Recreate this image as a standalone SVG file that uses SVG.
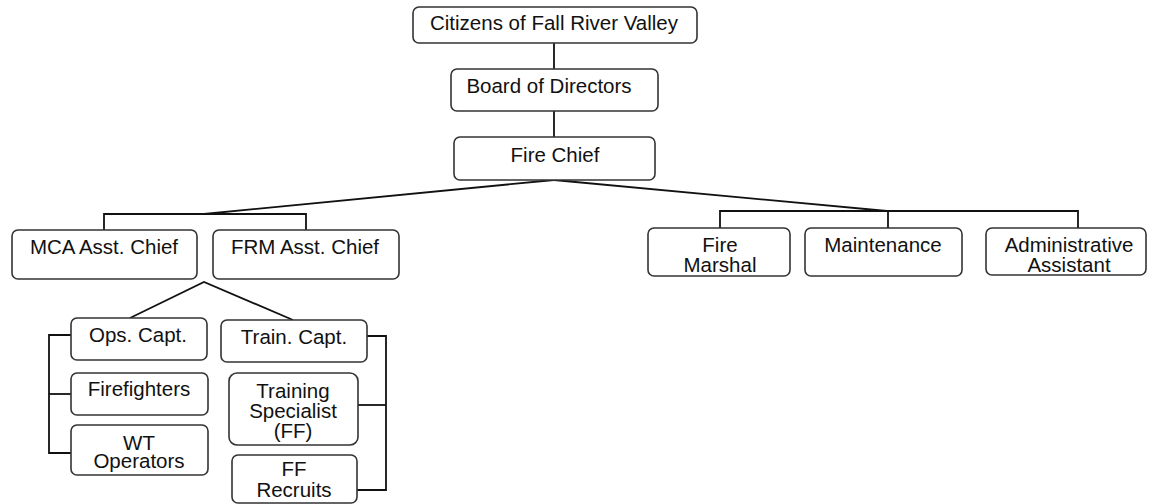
<svg xmlns="http://www.w3.org/2000/svg" width="1149" height="504" viewBox="0 0 1149 504">
<style>
.box{fill:#fff;stroke:#333;stroke-width:1.6}
.t{font-family:"Liberation Sans",Arial,sans-serif;font-size:20.5px;fill:#111;text-anchor:middle}
.c{fill:none;stroke:#111;stroke-width:1.8}
</style>
<rect width="1149" height="504" fill="#fff"/>
<g id="connectors">
<line class="c" x1="554" y1="43" x2="554" y2="69"/>
<line class="c" x1="554" y1="111" x2="554" y2="137"/>
<line class="c" x1="554" y1="180" x2="204" y2="214"/>
<line class="c" x1="554" y1="180" x2="887" y2="211"/>
<polyline class="c" points="104,230 104,214 306,214 306,230"/>
<polyline class="c" points="720,228 720,211 1078,211 1078,228"/>
<line class="c" x1="888" y1="211" x2="888" y2="228"/>
<polyline class="c" points="130,318 204,282 293,320"/>
<polyline class="c" points="71,335 49,335 49,453 71,453"/>
<line class="c" x1="49" y1="394" x2="71" y2="394"/>
<polyline class="c" points="367,336 386,336 386,490 357,490"/>
<line class="c" x1="358" y1="405" x2="386" y2="405"/>
</g>
<g id="citizens"><rect class="box" x="413" y="7" width="284" height="36" rx="6"/><text class="t" x="554" y="30">Citizens of Fall River Valley</text></g>
<g id="board"><rect class="box" x="451" y="69" width="207" height="42" rx="6"/><text class="t" x="549" y="93">Board of Directors</text></g>
<g id="firechief"><rect class="box" x="454" y="137" width="201" height="43" rx="6"/><text class="t" x="555" y="162">Fire Chief</text></g>
<g id="mca"><rect class="box" x="12" y="230" width="185" height="49" rx="6"/><text class="t" x="104" y="254">MCA Asst. Chief</text></g>
<g id="frm"><rect class="box" x="213" y="230" width="186" height="49" rx="6"/><text class="t" x="305" y="254">FRM Asst. Chief</text></g>
<g id="firemarshal"><rect class="box" x="648" y="228" width="142" height="48" rx="6"/><text class="t" x="720" y="252">Fire</text><text class="t" x="720" y="272">Marshal</text></g>
<g id="maintenance"><rect class="box" x="805" y="228" width="157" height="48" rx="6"/><text class="t" x="883" y="252">Maintenance</text></g>
<g id="admin"><rect class="box" x="986" y="228" width="160" height="47" rx="6"/><text class="t" x="1069" y="252">Administrative</text><text class="t" x="1069" y="272">Assistant</text></g>
<g id="opscapt"><rect class="box" x="71" y="318" width="136" height="42" rx="6"/><text class="t" x="138" y="342">Ops. Capt.</text></g>
<g id="traincapt"><rect class="box" x="221" y="320" width="146" height="42" rx="6"/><text class="t" x="294" y="344">Train. Capt.</text></g>
<g id="firefighters"><rect class="box" x="71" y="373" width="137" height="42" rx="6"/><text class="t" x="139" y="396">Firefighters</text></g>
<g id="wtoperators"><rect class="box" x="71" y="425" width="137" height="50" rx="6"/><text class="t" x="139" y="450">WT</text><text class="t" x="139" y="468">Operators</text></g>
<g id="trainingspecialist"><rect class="box" x="229" y="373" width="129" height="72" rx="8"/><text class="t" x="293" y="398">Training</text><text class="t" x="293" y="418">Specialist</text><text class="t" x="293" y="438">(FF)</text></g>
<g id="ffrecruits"><rect class="box" x="232" y="455" width="125" height="48" rx="6"/><text class="t" x="294" y="476">FF</text><text class="t" x="294" y="497">Recruits</text></g>
</svg>
